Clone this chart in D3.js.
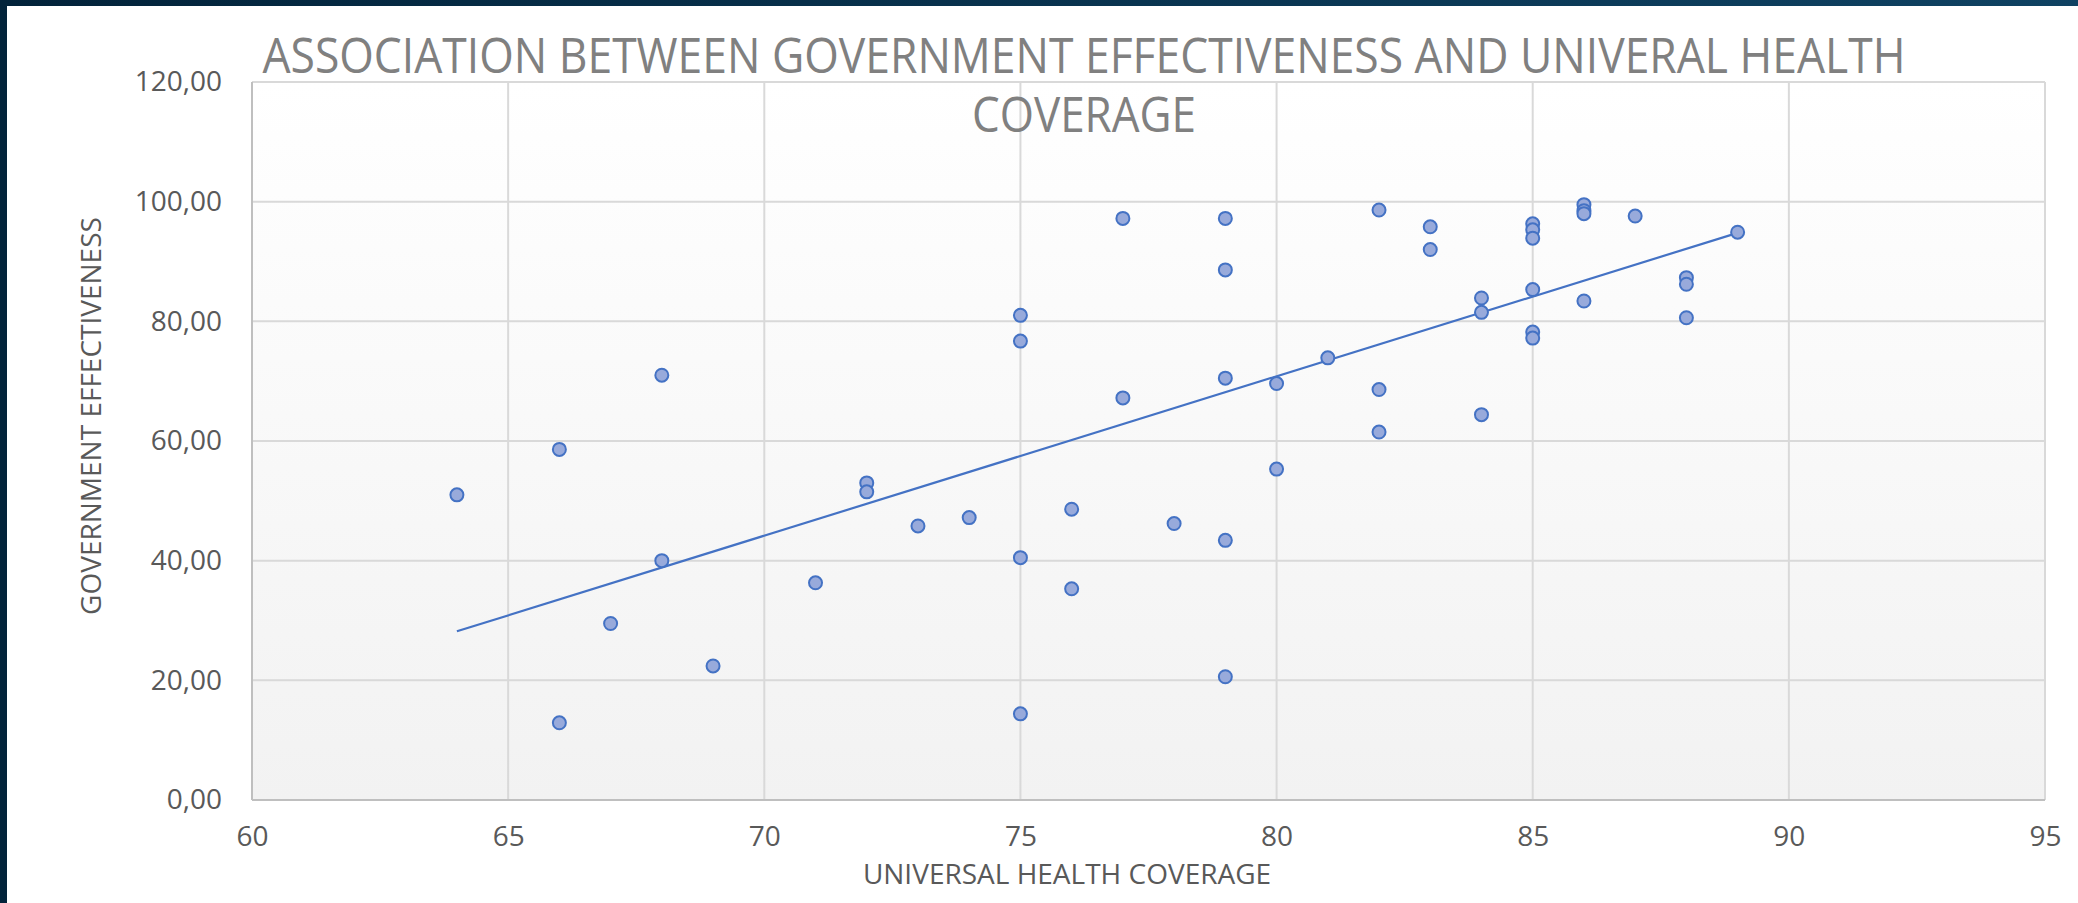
<!DOCTYPE html>
<html>
<head>
<meta charset="utf-8">
<script src="https://cdn.jsdelivr.net/npm/d3@7"></script>
<style>
  html, body { margin: 0; padding: 0; background: #fff; }
  svg { display: block; font-family: "Open Sans", sans-serif; }
</style>
</head>
<body>
<svg id="chart" width="2078" height="903"></svg>
<script>
// universal health coverage (x) vs government effectiveness (y)
var uhc = [64, 66, 66, 67, 68, 68, 69, 71, 72, 72, 73, 74, 75, 75, 75, 75, 76, 76,
           77, 77, 78, 79, 79, 79, 79, 79, 80, 80, 81, 82, 82, 82, 83, 83, 84, 84,
           84, 85, 85, 85, 85, 85, 85, 86, 86, 86, 86, 87, 88, 88, 88, 89];
var govEff = [51.0, 58.6, 12.9, 29.5, 71.0, 40.0, 22.4, 36.3, 53.0, 51.5, 45.8, 47.2,
              81.0, 76.7, 40.5, 14.4, 48.6, 35.3, 97.2, 67.2, 46.2, 97.2, 88.6, 70.5,
              43.4, 20.6, 69.6, 55.3, 73.9, 98.6, 68.6, 61.5, 95.8, 92.0, 83.9, 81.5,
              64.4, 96.3, 95.3, 93.9, 85.3, 78.2, 77.2, 99.5, 98.5, 98.0, 83.4, 97.6,
              87.3, 86.2, 80.6, 94.9];
var xTicks = [60, 65, 70, 75, 80, 85, 90, 95];
var yTicks = [0, 20, 40, 60, 80, 100, 120];

var titleLines = ["ASSOCIATION BETWEEN GOVERNMENT EFFECTIVENESS AND UNIVERAL HEALTH", "COVERAGE"];
var xTitle = "UNIVERSAL HEALTH COVERAGE";
var yTitle = "GOVERNMENT EFFECTIVENESS";

var svg = d3.select("#chart");
var W = 2078, H = 903;
var plotL = 252, plotR = 2045, plotT = 82, plotB = 800;

var x = d3.scaleLinear().domain([60, 95]).range([plotL, plotR]);
var y = d3.scaleLinear().domain([0, 120]).range([plotB, plotT]);

var locale = d3.formatLocale({decimal: ",", thousands: ".", grouping: [3], currency: ["", ""]});
var fmtY = locale.format(".2f");

// frame
var defs = svg.append("defs");
var topGrad = defs.append("linearGradient").attr("id", "topbar");
topGrad.append("stop").attr("offset", "0%").attr("stop-color", "#02233a");
topGrad.append("stop").attr("offset", "100%").attr("stop-color", "#0f4262");
var plotGrad = defs.append("linearGradient").attr("id", "plotbg")
    .attr("x1", 0).attr("y1", 0).attr("x2", 0).attr("y2", 1);
plotGrad.append("stop").attr("offset", "0%").attr("stop-color", "#ffffff");
plotGrad.append("stop").attr("offset", "100%").attr("stop-color", "#f2f2f2");

svg.append("rect").attr("width", W).attr("height", H).attr("fill", "#fff");
svg.append("rect").attr("width", W).attr("height", 6).attr("fill", "url(#topbar)");
svg.append("rect").attr("width", 7).attr("height", H).attr("fill", "#02233a");

// plot area
svg.append("rect")
    .attr("x", plotL).attr("y", plotT)
    .attr("width", plotR - plotL).attr("height", plotB - plotT)
    .attr("fill", "url(#plotbg)");

// grid
svg.append("g").selectAll("line").data(yTicks).join("line")
    .attr("x1", plotL).attr("x2", plotR)
    .attr("y1", d => y(d)).attr("y2", d => y(d))
    .attr("stroke", "#d9d9d9").attr("stroke-width", 2);
svg.append("g").selectAll("line").data(xTicks).join("line")
    .attr("x1", d => x(d)).attr("x2", d => x(d))
    .attr("y1", plotT).attr("y2", plotB)
    .attr("stroke", "#d9d9d9").attr("stroke-width", 2);

// axis lines
svg.append("line").attr("x1", plotL).attr("x2", plotL).attr("y1", plotT).attr("y2", plotB)
    .attr("stroke", "#bfbfbf").attr("stroke-width", 2);
svg.append("line").attr("x1", plotL).attr("x2", plotR).attr("y1", plotB).attr("y2", plotB)
    .attr("stroke", "#bfbfbf").attr("stroke-width", 2);

// tick labels
var yAxis = d3.axisLeft(y).tickValues(yTicks).tickFormat(fmtY).tickSize(0).tickPadding(30);
var gy = svg.append("g").attr("transform", "translate(" + plotL + ",0)").call(yAxis);
var xAxis = d3.axisBottom(x).tickValues(xTicks).tickFormat(d3.format("d")).tickSize(0).tickPadding(26);
var gx = svg.append("g").attr("transform", "translate(0," + plotB + ")").call(xAxis);
[gy, gx].forEach(function(g) {
    g.select(".domain").remove();
    g.selectAll("text")
        .attr("fill", "#595959")
        .style("font-size", "28px")
        .style("font-family", "'Open Sans', sans-serif");
});

// trendline (least squares)
var mx = d3.mean(uhc), my = d3.mean(govEff);
var sxy = d3.sum(uhc, (v, i) => (v - mx) * (govEff[i] - my));
var sxx = d3.sum(uhc, v => (v - mx) * (v - mx));
var slope = sxy / sxx, icpt = my - slope * mx;
var xr = d3.extent(uhc);
svg.append("line")
    .attr("x1", x(xr[0])).attr("y1", y(icpt + slope * xr[0]))
    .attr("x2", x(xr[1])).attr("y2", y(icpt + slope * xr[1]))
    .attr("stroke", "#4472c4").attr("stroke-width", 2.2);

// points
svg.append("g").selectAll("circle").data(uhc).join("circle")
    .attr("cx", d => x(d))
    .attr("cy", (d, i) => y(govEff[i]))
    .attr("r", 6.5)
    .attr("fill", "#98aadb")
    .attr("stroke", "#4472c4")
    .attr("stroke-width", 2);

// titles
svg.append("text")
    .attr("x", 1084).attr("y", 73)
    .attr("text-anchor", "middle")
    .attr("fill", "#808080")
    .attr("textLength", 1643).attr("lengthAdjust", "spacingAndGlyphs")
    .style("font-size", "50px")
    .text(titleLines[0]);
svg.append("text")
    .attr("x", 1084).attr("y", 132)
    .attr("text-anchor", "middle")
    .attr("fill", "#808080")
    .attr("textLength", 224).attr("lengthAdjust", "spacingAndGlyphs")
    .style("font-size", "50px")
    .text(titleLines[1]);

svg.append("text")
    .attr("x", 1067).attr("y", 884)
    .attr("text-anchor", "middle")
    .attr("fill", "#595959")
    .style("font-size", "28px")
    .text(xTitle);

svg.append("text")
    .attr("transform", "translate(101,416) rotate(-90)")
    .attr("text-anchor", "middle")
    .attr("fill", "#595959")
    .style("font-size", "28px")
    .text(yTitle);
</script>
</body>
</html>
